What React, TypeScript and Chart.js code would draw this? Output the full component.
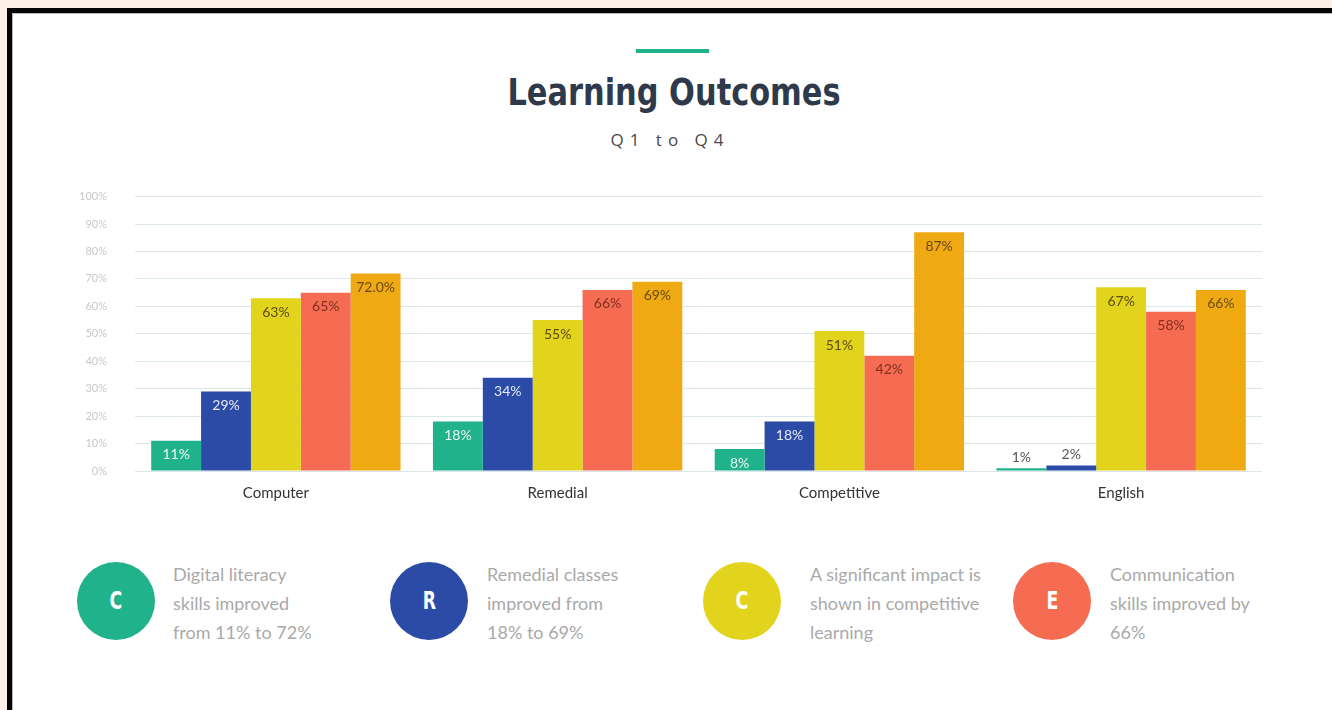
import React, { useEffect, useRef } from "react";
import { Chart, registerables } from "chart.js";

Chart.register(...registerables);

const categories = ["Computer", "Remedial", "Competitive", "English"];
const seriesNames = ["Series 1", "Series 2", "Series 3", "Series 4", "Series 5"];
const greenValues = [11, 18, 8, 1];
const blueValues = [29, 34, 18, 2];
const yellowValues = [63, 55, 51, 67];
const redValues = [65, 66, 42, 58];
const orangeValues = [72, 69, 87, 66];
const orangeLabels = ["72.0%", "69%", "87%", "66%"];
const yTicks = [0, 10, 20, 30, 40, 50, 60, 70, 80, 90, 100];

const title = "Learning Outcomes";
const subtitle = "Q1 to Q4";
const notes = [
  { letter: "C", color: "#20b28a", lines: ["Digital literacy", "skills improved", "from 11% to 72%"] },
  { letter: "R", color: "#2b4ba6", lines: ["Remedial classes", "improved from", "18% to 69%"] },
  { letter: "C", color: "#e2d41c", lines: ["A significant impact is", "shown in competitive", "learning"] },
  { letter: "E", color: "#f56c52", lines: ["Communication", "skills improved by", "66%"] },
];

const seriesColors = ["#20b28a", "#2b4ba6", "#e2d41c", "#f56c52", "#efa913"];
const labelColors = ["#eef6f2", "#e6ebf6", "#5a4c12", "#7e2f1e", "#6a4a10"];

const noteCircleX = [116, 429, 742, 1052];
const noteTextX = [173, 487, 810, 1110];

export default function App() {
  const ref = useRef<HTMLCanvasElement | null>(null);

  useEffect(() => {
    document.body.style.margin = "0";
    const ctx = ref.current;
    if (!ctx) return;
    const allValues = [greenValues, blueValues, yellowValues, redValues, orangeValues];

    const labelPlugin = {
      id: "barLabels",
      afterDatasetsDraw(chart: any) {
        const c = chart.ctx;
        c.save();
        c.font = "14px Lato";
        c.textAlign = "center";
        c.textBaseline = "middle";
        chart.data.datasets.forEach((ds: any, di: number) => {
          const meta = chart.getDatasetMeta(di);
          meta.data.forEach((bar: any, i: number) => {
            const v = ds.data[i];
            const txt = di === 4 ? orangeLabels[i] : v + "%";
            if (v >= 5) {
              c.fillStyle = labelColors[di];
              c.fillText(txt, bar.x, bar.y + 14);
            } else {
              c.fillStyle = "#555555";
              c.fillText(txt, bar.x, bar.y - 11);
            }
          });
        });
        c.restore();
      },
    };

    const chart = new Chart(ctx, {
      type: "bar",
      data: {
        labels: categories,
        datasets: allValues.map((vals, i) => ({
          label: seriesNames[i],
          data: vals,
          backgroundColor: seriesColors[i],
          borderWidth: 0,
          barPercentage: 1,
          categoryPercentage: 0.885,
        })),
      },
      options: {
        animation: false,
        responsive: false,
        maintainAspectRatio: false,
        layout: { padding: { top: 16, right: 18, bottom: 0, left: 0 } },
        plugins: { legend: { display: false }, tooltip: { enabled: false } },
        scales: {
          x: {
            grid: { display: false, drawTicks: false },
            border: { display: false },
            ticks: { color: "#333333", font: { family: "Lato", size: 15 }, padding: 13 },
            afterFit(scale: any) {
              scale.height = 49;
            },
          },
          y: {
            min: 0,
            max: 100,
            afterBuildTicks(scale: any) {
              scale.ticks = yTicks.map((v) => ({ value: v }));
            },
            grid: { color: "#dbe6ea", lineWidth: 1, drawTicks: false },
            border: { display: false },
            ticks: {
              color: "#c8c8c8",
              font: { family: "Lato", size: 11 },
              padding: 28,
              callback: (v: any) => v + "%",
            },
            afterFit(scale: any) {
              scale.width = 75;
            },
          },
        },
      },
      plugins: [labelPlugin],
    });
    return () => chart.destroy();
  }, []);

  return (
    <div style={{ position: "fixed", left: 0, top: 0, width: 1332, height: 710, background: "#fdf0e6", overflow: "hidden" }}>
      <div style={{ position: "absolute", left: 7, top: 8, right: 0, bottom: 0, background: "#050505" }} />
      <div style={{ position: "absolute", left: 12, top: 13, right: 0, bottom: 0, background: "#ffffff", borderTop: "1px solid #bbbbbb", borderLeft: "1px solid #bbbbbb" }} />
      <div style={{ position: "absolute", left: 636, top: 49, width: 73, height: 4, background: "#20b28a" }} />
      <div
        style={{
          position: "absolute",
          left: 8,
          width: 1332,
          top: 67,
          textAlign: "center",
          fontFamily: "'DejaVu Sans Condensed', 'DejaVu Sans'",
          fontStretch: "condensed",
          fontWeight: 700,
          fontSize: 38,
          lineHeight: "50px",
          color: "#2e3a4b",
          transform: "scaleX(0.89)",
          transformOrigin: "666px 0",
        }}
      >
        {title}
      </div>
      <div
        style={{
          position: "absolute",
          left: 0,
          width: 1332,
          top: 129,
          textAlign: "center",
          fontFamily: "'Open Sans'",
          fontSize: 17,
          lineHeight: "22px",
          letterSpacing: 6,
          paddingLeft: 8,
          boxSizing: "border-box",
          color: "#4a4a4a",
        }}
      >
        {subtitle}
      </div>
      <canvas ref={ref} width={1220} height={358} style={{ position: "absolute", left: 60, top: 162, width: 1220, height: 358 }} />
      {notes.map((n, i) => (
        <React.Fragment key={i}>
          <div
            style={{
              position: "absolute",
              left: noteCircleX[i] - 39,
              top: 562,
              width: 78,
              height: 78,
              borderRadius: "50%",
              background: n.color,
              color: "#ffffff",
              textAlign: "center",
              lineHeight: "78px",
              fontFamily: "'DejaVu Sans Condensed', 'DejaVu Sans'",
              fontStretch: "condensed",
              fontWeight: 700,
              fontSize: 24,
            }}
          >
            <span style={{ display: "inline-block", transform: "scaleX(0.8)" }}>{n.letter}</span>
          </div>
          <div
            style={{
              position: "absolute",
              left: noteTextX[i],
              top: 560,
              fontFamily: "Lato",
              fontSize: 18,
              lineHeight: "29px",
              color: "#a9a9a9",
              whiteSpace: "nowrap",
            }}
          >
            {n.lines.map((l, j) => (
              <div key={j}>{l}</div>
            ))}
          </div>
        </React.Fragment>
      ))}
    </div>
  );
}
